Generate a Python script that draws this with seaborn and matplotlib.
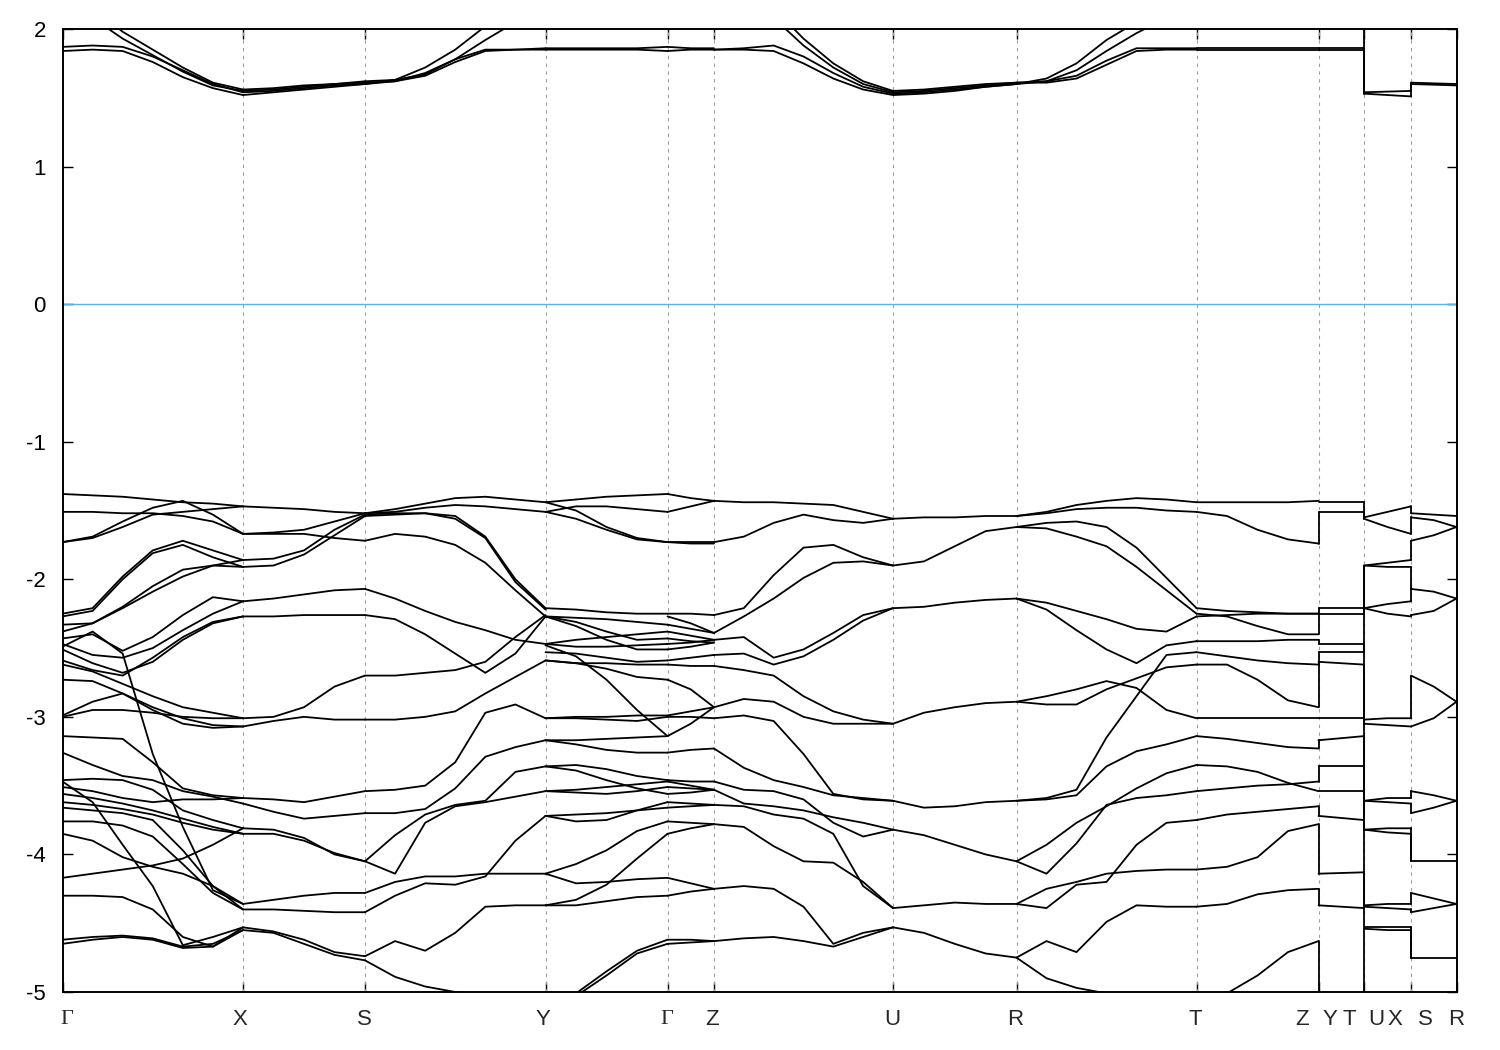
import numpy as np
import pandas as pd
import matplotlib
matplotlib.use("Agg")
import matplotlib.pyplot as plt
import seaborn as sns

# k-path: node positions along the path, labels under the axis
node_k = [0, 180.5, 302.5, 483, 605, 651.5, 830.5, 954, 1134, 1256, 1301.5, 1348.5, 1394]
label_k = [4.5, 177.5, 301.5, 480.5, 604.5, 649.5, 829.5, 952.5, 1132.5,
           1239.5, 1267.5, 1286.5, 1313.5, 1332.5, 1362.5, 1393.5]
label_txt = ["Γ", "X", "S", "Y", "Γ", "Z", "U", "R", "T", "Z", "Y", "T", "U", "X", "S", "R"]

# valence bands (eV), one row per line, samples evenly spaced along each segment
vb_GX = [
    [-1.38, -1.39, -1.40, -1.42, -1.44, -1.45, -1.47],
    [-1.51, -1.51, -1.52, -1.52, -1.54, -1.58, -1.67],
    [-1.73, -1.69, -1.58, -1.48, -1.43, -1.53, -1.67],
    [-1.73, -1.70, -1.62, -1.53, -1.51, -1.49, -1.47],
    [-2.25, -2.21, -1.98, -1.79, -1.72, -1.79, -1.86],
    [-2.27, -2.23, -2.00, -1.81, -1.75, -1.84, -1.91],
    [-2.33, -2.32, -2.20, -2.05, -1.93, -1.90, -1.91],
    [-2.38, -2.32, -2.21, -2.09, -1.98, -1.90, -1.86],
    [-2.43, -2.40, -2.52, -2.42, -2.26, -2.13, -2.16],
    [-2.47, -2.55, -2.57, -2.50, -2.37, -2.25, -2.16],
    [-2.51, -2.61, -2.68, -2.60, -2.44, -2.32, -2.27],
    [-2.59, -2.66, -2.70, -2.57, -2.42, -2.31, -2.27],
    [-2.62, -2.67, -2.76, -2.85, -2.93, -2.97, -3.01],
    [-2.73, -2.74, -2.83, -2.93, -3.01, -3.06, -3.07],
    [-2.99, -2.89, -2.83, -2.95, -3.05, -3.08, -3.07],
    [-3.00, -2.95, -2.95, -2.97, -3.00, -3.01, -3.01],
    [-2.49, -2.38, -2.54, -3.27, -3.80, -4.26, -4.36],
    [-3.14, -3.15, -3.16, -3.33, -3.52, -3.57, -3.59],
    [-3.26, -3.35, -3.43, -3.46, -3.54, -3.58, -3.63],
    [-3.46, -3.45, -3.46, -3.53, -3.68, -3.75, -3.81],
    [-3.47, -3.62, -3.93, -4.23, -4.66, -4.60, -4.53],
    [-3.51, -3.54, -3.59, -3.62, -3.60, -3.60, -3.59],
    [-3.56, -3.59, -3.63, -3.68, -3.74, -3.80, -3.85],
    [-3.62, -3.64, -3.67, -3.71, -3.77, -3.82, -3.85],
    [-3.66, -3.68, -3.70, -3.75, -3.97, -4.23, -4.40],
    [-3.76, -3.76, -3.79, -3.87, -4.07, -4.28, -4.40],
    [-3.85, -3.90, -4.02, -4.09, -4.14, -4.23, -4.36],
    [-4.17, -4.14, -4.11, -4.08, -4.03, -3.93, -3.81],
    [-4.30, -4.30, -4.31, -4.40, -4.60, -4.67, -4.55],
    [-4.62, -4.60, -4.59, -4.61, -4.67, -4.65, -4.55],
    [-4.65, -4.62, -4.60, -4.62, -4.68, -4.67, -4.53],
]
vb_XS = [
    [-1.47, -1.48, -1.49, -1.51, -1.52],
    [-1.67, -1.67, -1.67, -1.70, -1.72],
    [-1.67, -1.66, -1.64, -1.58, -1.52],
    [-1.86, -1.85, -1.79, -1.64, -1.53],
    [-1.91, -1.90, -1.82, -1.68, -1.54],
    [-2.16, -2.14, -2.11, -2.08, -2.07],
    [-2.27, -2.27, -2.26, -2.26, -2.26],
    [-3.01, -3.00, -2.93, -2.78, -2.70],
    [-3.07, -3.03, -3.00, -3.02, -3.02],
    [-3.59, -3.60, -3.62, -3.58, -3.54],
    [-3.63, -3.69, -3.74, -3.72, -3.70],
    [-3.81, -3.82, -3.88, -4.00, -4.05],
    [-3.85, -3.85, -3.90, -3.99, -4.05],
    [-4.36, -4.33, -4.30, -4.28, -4.28],
    [-4.40, -4.40, -4.41, -4.42, -4.42],
    [-4.53, -4.56, -4.62, -4.71, -4.74],
    [-4.55, -4.57, -4.65, -4.73, -4.77],
]
vb_SY = [
    [-1.52, -1.49, -1.45, -1.41, -1.40, -1.42, -1.44],
    [-1.52, -1.51, -1.48, -1.46, -1.47, -1.49, -1.51],
    [-1.53, -1.52, -1.52, -1.54, -1.69, -2.00, -2.21],
    [-1.54, -1.53, -1.52, -1.56, -1.70, -2.02, -2.22],
    [-1.72, -1.67, -1.69, -1.75, -1.88, -2.08, -2.27],
    [-2.07, -2.14, -2.23, -2.31, -2.37, -2.44, -2.47],
    [-2.26, -2.29, -2.40, -2.54, -2.68, -2.54, -2.27],
    [-2.70, -2.70, -2.68, -2.66, -2.60, -2.42, -2.26],
    [-3.02, -3.02, -3.00, -2.96, -2.83, -2.71, -2.59],
    [-3.54, -3.53, -3.50, -3.33, -2.97, -2.91, -3.01],
    [-3.70, -3.70, -3.67, -3.52, -3.29, -3.22, -3.17],
    [-4.05, -3.86, -3.71, -3.64, -3.61, -3.40, -3.36],
    [-4.05, -4.14, -3.77, -3.65, -3.62, -3.58, -3.54],
    [-4.28, -4.20, -4.16, -4.16, -4.14, -4.14, -4.14],
    [-4.42, -4.30, -4.21, -4.22, -4.16, -3.90, -3.72],
    [-4.74, -4.63, -4.70, -4.57, -4.38, -4.37, -4.37],
    [-4.77, -4.89, -4.96, -5.00, -5.03, -5.08, -5.16],
]
vb_YG = [
    [-1.44, -1.42, -1.40, -1.39, -1.38],
    [-1.51, -1.47, -1.47, -1.49, -1.51],
    [-1.51, -1.56, -1.64, -1.71, -1.73],
    [-1.44, -1.50, -1.62, -1.70, -1.73],
    [-2.21, -2.22, -2.24, -2.25, -2.25],
    [-2.27, -2.28, -2.29, -2.31, -2.33],
    [-2.27, -2.31, -2.38, -2.44, -2.43],
    [-2.47, -2.44, -2.42, -2.40, -2.38],
    [-2.47, -2.49, -2.49, -2.48, -2.47],
    [-2.53, -2.54, -2.57, -2.60, -2.59],
    [-2.59, -2.61, -2.61, -2.62, -2.62],
    [-2.27, -2.34, -2.44, -2.51, -2.51],
    [-2.59, -2.61, -2.65, -2.71, -2.73],
    [-3.01, -3.00, -3.00, -2.99, -2.99],
    [-2.48, -2.56, -2.73, -2.95, -3.14],
    [-3.01, -3.01, -3.02, -3.03, -3.00],
    [-3.17, -3.20, -3.24, -3.26, -3.26],
    [-3.17, -3.17, -3.16, -3.15, -3.14],
    [-3.36, -3.35, -3.38, -3.43, -3.46],
    [-3.36, -3.39, -3.46, -3.52, -3.56],
    [-3.54, -3.53, -3.51, -3.49, -3.47],
    [-3.54, -3.55, -3.56, -3.54, -3.51],
    [-3.72, -3.76, -3.75, -3.68, -3.62],
    [-3.72, -3.71, -3.70, -3.68, -3.66],
    [-4.14, -4.07, -3.97, -3.83, -3.76],
    [-4.14, -4.21, -4.20, -4.18, -4.17],
    [-4.37, -4.33, -4.22, -4.03, -3.85],
    [-4.37, -4.37, -4.34, -4.31, -4.30],
    [-5.11, -5.01, -4.85, -4.70, -4.62],
    [-5.16, -5.03, -4.88, -4.72, -4.65],
]
vb_GZ = [
    [-1.38, -1.41, -1.43], [-1.51, -1.47, -1.43], [-1.73, -1.73, -1.73],
    [-1.73, -1.74, -1.74], [-2.25, -2.25, -2.26], [-2.27, -2.32, -2.39],
    [-2.33, -2.36, -2.39], [-2.38, -2.41, -2.44], [-2.43, -2.45, -2.46],
    [-2.47, -2.46, -2.44], [-2.51, -2.49, -2.46], [-2.59, -2.57, -2.55],
    [-2.62, -2.63, -2.63], [-2.73, -2.80, -2.93], [-2.99, -2.96, -2.93],
    [-3.00, -3.00, -3.01], [-3.14, -3.05, -2.93], [-3.26, -3.24, -3.23],
    [-3.46, -3.47, -3.47], [-3.47, -3.50, -3.53], [-3.51, -3.52, -3.53],
    [-3.56, -3.55, -3.53], [-3.62, -3.63, -3.64], [-3.66, -3.65, -3.64],
    [-3.76, -3.77, -3.78], [-3.85, -3.81, -3.78], [-4.17, -4.21, -4.25],
    [-4.30, -4.27, -4.25], [-4.62, -4.62, -4.63], [-4.65, -4.64, -4.63],
]
vb_ZU = [
    [-1.43, -1.44, -1.44, -1.45, -1.46, -1.51, -1.56],
    [-1.73, -1.69, -1.59, -1.53, -1.57, -1.59, -1.56],
    [-2.26, -2.21, -1.97, -1.77, -1.75, -1.84, -1.90],
    [-2.39, -2.27, -2.14, -1.99, -1.88, -1.87, -1.90],
    [-2.44, -2.42, -2.57, -2.51, -2.39, -2.26, -2.21],
    [-2.55, -2.54, -2.62, -2.56, -2.44, -2.30, -2.21],
    [-2.63, -2.66, -2.70, -2.85, -2.96, -3.02, -3.05],
    [-2.93, -2.87, -2.89, -3.00, -3.05, -3.05, -3.05],
    [-3.01, -2.99, -3.03, -3.27, -3.56, -3.60, -3.61],
    [-3.23, -3.37, -3.46, -3.51, -3.57, -3.59, -3.61],
    [-3.47, -3.53, -3.54, -3.60, -3.77, -3.87, -3.82],
    [-3.53, -3.63, -3.65, -3.68, -3.73, -3.77, -3.82],
    [-3.64, -3.65, -3.71, -3.74, -3.85, -4.23, -4.39],
    [-3.78, -3.80, -3.94, -4.05, -4.06, -4.20, -4.39],
    [-4.25, -4.23, -4.25, -4.38, -4.65, -4.57, -4.53],
    [-4.63, -4.61, -4.60, -4.63, -4.67, -4.60, -4.53],
]
vb_UR = [
    [-1.56, -1.55, -1.55, -1.54, -1.54],
    [-1.90, -1.87, -1.76, -1.65, -1.62],
    [-2.21, -2.20, -2.17, -2.15, -2.14],
    [-3.05, -2.97, -2.93, -2.90, -2.89],
    [-3.61, -3.66, -3.65, -3.62, -3.61],
    [-3.82, -3.86, -3.93, -4.00, -4.05],
    [-4.39, -4.37, -4.35, -4.36, -4.36],
    [-4.53, -4.57, -4.65, -4.72, -4.75],
]
vb_RT = [
    [-1.54, -1.51, -1.46, -1.43, -1.41, -1.42, -1.44],
    [-1.54, -1.52, -1.49, -1.48, -1.48, -1.50, -1.51],
    [-1.62, -1.59, -1.58, -1.62, -1.77, -1.99, -2.21],
    [-1.62, -1.63, -1.69, -1.76, -1.91, -2.08, -2.25],
    [-2.14, -2.17, -2.23, -2.29, -2.36, -2.38, -2.27],
    [-2.14, -2.22, -2.37, -2.51, -2.61, -2.48, -2.45],
    [-2.89, -2.85, -2.80, -2.74, -2.79, -2.95, -3.01],
    [-2.89, -2.91, -2.91, -2.80, -2.72, -2.64, -2.62],
    [-3.61, -3.60, -3.57, -3.36, -3.25, -3.20, -3.14],
    [-3.61, -3.59, -3.53, -3.15, -2.85, -2.55, -2.53],
    [-4.05, -3.93, -3.77, -3.65, -3.52, -3.41, -3.35],
    [-4.05, -4.14, -3.92, -3.64, -3.59, -3.57, -3.54],
    [-4.36, -4.25, -4.20, -4.14, -4.12, -4.11, -4.11],
    [-4.36, -4.39, -4.22, -4.20, -3.93, -3.77, -3.75],
    [-4.75, -4.63, -4.71, -4.49, -4.37, -4.38, -4.38],
    [-4.75, -4.90, -4.97, -5.01, -5.03, -5.06, -5.08],
]
vb_TZ = [
    [-1.44, -1.44, -1.44, -1.44, -1.43],
    [-1.51, -1.54, -1.64, -1.71, -1.74],
    [-2.21, -2.23, -2.24, -2.25, -2.25],
    [-2.25, -2.27, -2.34, -2.40, -2.40],
    [-2.27, -2.26, -2.25, -2.25, -2.25],
    [-2.45, -2.45, -2.45, -2.44, -2.44],
    [-2.53, -2.56, -2.59, -2.61, -2.62],
    [-2.62, -2.62, -2.73, -2.88, -2.93],
    [-3.01, -3.01, -3.01, -3.01, -3.01],
    [-3.14, -3.16, -3.19, -3.22, -3.23],
    [-3.35, -3.36, -3.40, -3.48, -3.54],
    [-3.54, -3.52, -3.50, -3.49, -3.47],
    [-3.75, -3.71, -3.69, -3.67, -3.65],
    [-4.11, -4.09, -4.02, -3.83, -3.78],
    [-4.38, -4.36, -4.29, -4.26, -4.25],
    [-5.08, -5.01, -4.88, -4.71, -4.63],
]
vb_YT = [
    [-1.44, -1.44], [-1.51, -1.51], [-2.21, -2.21], [-2.25, -2.25], [-2.47, -2.47],
    [-2.53, -2.53], [-2.60, -2.62], [-3.01, -3.01], [-3.17, -3.14], [-3.36, -3.36],
    [-3.54, -3.54], [-3.72, -3.75], [-4.14, -4.13], [-4.37, -4.39], [-5.11, -5.11],
]
vb_UX = [
    [-1.55, -1.51, -1.47], [-1.56, -1.62, -1.67], [-1.90, -1.88, -1.86], [-1.90, -1.91, -1.91],
    [-2.21, -2.18, -2.16], [-2.21, -2.25, -2.27], [-3.02, -3.01, -3.01], [-3.05, -3.06, -3.07],
    [-3.61, -3.59, -3.59], [-3.61, -3.62, -3.63], [-3.82, -3.81, -3.81], [-3.82, -3.84, -3.85],
    [-4.37, -4.36, -4.36], [-4.38, -4.39, -4.40], [-4.53, -4.53, -4.53], [-4.54, -4.55, -4.55],
]
vb_SR = [
    [-1.52, -1.53, -1.54], [-1.55, -1.57, -1.62], [-1.72, -1.68, -1.62], [-2.07, -2.09, -2.14],
    [-2.26, -2.23, -2.14], [-2.70, -2.78, -2.89], [-3.07, -3.01, -2.89], [-3.54, -3.57, -3.61],
    [-3.70, -3.66, -3.61], [-4.05, -4.05, -4.05], [-4.28, -4.32, -4.36], [-4.42, -4.39, -4.36],
    [-4.75, -4.75, -4.75],
]

# conduction bands (eV)
cb_GX = [
    [1.87, 1.88, 1.87, 1.80, 1.70, 1.60, 1.54],
    [1.84, 1.85, 1.84, 1.76, 1.65, 1.57, 1.52],
    [2.25, 2.08, 1.93, 1.81, 1.69, 1.59, 1.55],
    [2.35, 2.15, 1.98, 1.85, 1.72, 1.61, 1.56],
]
cb_XS = [
    [1.54, 1.55, 1.57, 1.59, 1.60],
    [1.52, 1.54, 1.56, 1.58, 1.60],
    [1.55, 1.56, 1.58, 1.60, 1.61],
    [1.56, 1.57, 1.59, 1.60, 1.62],
]
cb_SY = [
    [1.60, 1.63, 1.72, 1.85, 2.02, 2.15, 2.20],
    [1.60, 1.62, 1.68, 1.78, 1.92, 2.05, 2.12],
    [1.61, 1.62, 1.66, 1.76, 1.84, 1.85, 1.85],
    [1.62, 1.63, 1.67, 1.78, 1.85, 1.85, 1.86],
]
cb_YG = [
    [2.20, 2.22, 2.24, 2.25, 2.25],
    [2.12, 2.20, 2.28, 2.33, 2.35],
    [1.85, 1.85, 1.85, 1.85, 1.84],
    [1.86, 1.86, 1.86, 1.86, 1.87],
]
cb_GZ = [[1.84, 1.85, 1.85], [1.87, 1.86, 1.86], [2.25, 2.30, 2.35], [2.35, 2.40, 2.45]]
cb_ZU = [
    [1.85, 1.86, 1.88, 1.80, 1.68, 1.58, 1.53],
    [1.85, 1.85, 1.84, 1.75, 1.64, 1.56, 1.52],
    [2.35, 2.25, 2.08, 1.88, 1.72, 1.60, 1.54],
    [2.45, 2.35, 2.15, 1.93, 1.75, 1.62, 1.55],
]
cb_UR = [
    [1.53, 1.54, 1.56, 1.58, 1.60],
    [1.52, 1.53, 1.55, 1.58, 1.60],
    [1.54, 1.55, 1.57, 1.59, 1.61],
    [1.55, 1.56, 1.58, 1.60, 1.61],
]
cb_RT = [
    [1.60, 1.64, 1.75, 1.92, 2.05, 2.15, 2.20],
    [1.60, 1.62, 1.70, 1.84, 1.97, 2.08, 2.12],
    [1.61, 1.61, 1.64, 1.74, 1.84, 1.85, 1.85],
    [1.61, 1.62, 1.66, 1.77, 1.86, 1.86, 1.86],
]
cb_TZ = [[1.85] * 5, [1.86] * 5, [2.20, 2.25, 2.30, 2.30, 2.30]]
cb_YT = [[1.85, 1.85], [1.86, 1.86], [2.30, 2.30]]
cb_UX = [[1.54, 1.545, 1.55], [1.53, 1.52, 1.51]]
cb_SR = [[1.61, 1.605, 1.60], [1.60, 1.595, 1.59]]

# band jumps at the path breaks Z|Y, T|U, X|S  (left value, right value)
jumps_ZY = [(-1.74, -1.51), (-2.25, -2.21), (-2.40, -2.25), (-2.44, -2.47), (-2.62, -2.53),
            (-2.93, -2.60), (-3.23, -3.17), (-3.47, -3.36), (-3.65, -3.72), (-3.78, -4.14),
            (-4.25, -4.37), (-4.63, -5.11)]
jumps_TU = [(-1.44, -1.55), (-1.51, -1.56), (-2.21, -1.90), (-2.25, -1.90), (-2.47, -3.02),
            (-2.53, -2.21), (-2.62, -3.05), (-3.01, -3.61), (-3.14, -3.61), (-3.36, -3.82),
            (-3.54, -3.82), (-3.75, -4.37), (-4.13, -4.38), (-4.39, -4.53), (-5.11, -4.54),
            (1.85, 1.53), (1.86, 1.54), (2.30, 1.54)]
jumps_XS = [(-1.47, -1.52), (-1.67, -1.55), (-1.86, -1.72), (-1.91, -2.07), (-2.16, -2.07),
            (-2.27, -2.26), (-3.01, -2.70), (-3.07, -3.07), (-3.59, -3.54), (-3.63, -3.70),
            (-3.81, -4.05), (-3.85, -4.05), (-4.36, -4.28), (-4.40, -4.42), (-4.53, -4.75),
            (-4.55, -4.75), (1.55, 1.61), (1.51, 1.60)]

segments = [
    (0, 1, vb_GX + cb_GX), (1, 2, vb_XS + cb_XS), (2, 3, vb_SY + cb_SY),
    (3, 4, vb_YG + cb_YG), (4, 5, vb_GZ + cb_GZ), (5, 6, vb_ZU + cb_ZU),
    (6, 7, vb_UR + cb_UR), (7, 8, vb_RT + cb_RT), (8, 9, vb_TZ + cb_TZ),
    (9, 10, vb_YT + cb_YT), (10, 11, vb_UX + cb_UX), (11, 12, vb_SR + cb_SR),
]
breaks = [(9, jumps_ZY), (10, jumps_TU), (11, jumps_XS)]

rows = []
uid = 0
for a, b, bands in segments:
    for band in bands:
        ks = np.linspace(node_k[a], node_k[b], len(band))
        for k, e in zip(ks, band):
            rows.append({"k": k, "E": e, "band": uid})
        uid += 1
for n, pairs in breaks:
    for e0, e1 in pairs:
        rows.append({"k": node_k[n], "E": e0, "band": uid})
        rows.append({"k": node_k[n], "E": e1, "band": uid})
        uid += 1
df = pd.DataFrame(rows)

sns.set_style("ticks")
plt.rcParams["font.family"] = ["Liberation Sans", "DejaVu Sans"]
plt.rcParams["axes.unicode_minus"] = False

fig = plt.figure(figsize=(15, 10.5), dpi=100)
ax = fig.add_axes([62.5 / 1500, 1 - 992 / 1050, 1394 / 1500, 963 / 1050])

for k in node_k[1:-1]:
    ax.axvline(k, color="#a0a0a0", lw=0.8, ls=(0, (3, 4)), zorder=1)
ax.axhline(0, color="#56b4e9", lw=1.0, zorder=2)

sns.lineplot(data=df, x="k", y="E", units="band", estimator=None, sort=False,
             color="black", lw=1.3, ax=ax, legend=False, zorder=3)

ax.set_xlim(0, 1394)
ax.set_ylim(-5, 2)
ax.set_xlabel("")
ax.set_ylabel("")
ax.set_yticks(range(-5, 3))
ax.set_yticklabels([str(v) for v in range(-5, 3)])
ax.set_xticks(node_k)
ax.set_xticklabels([])
ax.tick_params(direction="in", length=7, width=1, top=True, right=True,
               labelsize=16, colors="black")
ax.tick_params(axis="y", pad=12)
for sp in ax.spines.values():
    sp.set_linewidth(1.4)
    sp.set_color("black")

for x, t in zip(label_k, label_txt):
    fam = ["Liberation Serif", "DejaVu Serif"] if t == "Γ" else ["Liberation Sans", "DejaVu Sans"]
    ax.text(x, -0.029, t, transform=ax.get_xaxis_transform(), ha="center", va="center",
            fontsize=16, family=fam)

fig.savefig("out.png", dpi=100)
